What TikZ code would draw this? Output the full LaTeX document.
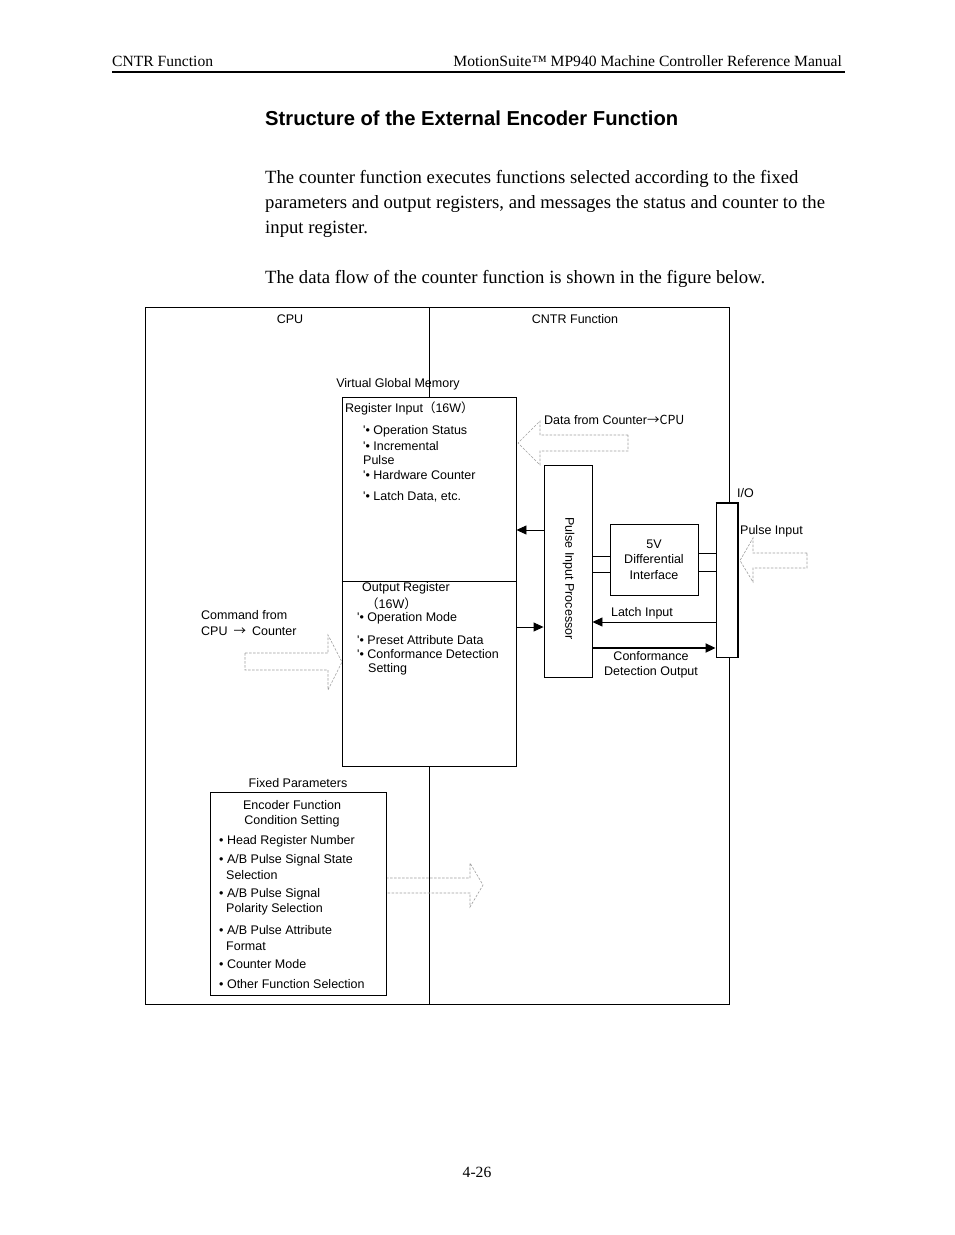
\documentclass[tikz,border=0pt]{standalone}
\usepackage{fontspec}
\setmainfont{Liberation Serif}
\newfontfamily\diag{Liberation Sans}
\newfontfamily\cjk{Noto Sans CJK JP}
\usetikzlibrary{positioning,arrows.meta}

\begin{document}
\begin{tikzpicture}[x=1pt,y=-1pt,
      lbl/.style={inner sep=0pt,yshift=-1.5pt,font=\diag\fontsize{12.5}{15.5}\selectfont},
      body/.style={anchor=base west,inner sep=0pt,font=\fontsize{18.7}{25}\selectfont},
      box/.style={draw,line width=0.9pt,fill=white,inner sep=0pt},
      arr/.style={line width=0.9pt,-{Triangle[length=10pt,width=9pt]}},
      hollow/.style={draw=gray!75,line width=0.6pt,dash pattern=on 2.5pt off 1.5pt}
      ]
      \useasboundingbox[fill=white] (0,0) rectangle (954,1235);
      % page header
      \node (hdl) [anchor=base west,inner sep=0pt,font=\fontsize{15.6}{18}\selectfont] at (112,66) {CNTR Function};
      \node (hdr) [anchor=base east,inner sep=0pt,font=\fontsize{15.6}{18}\selectfont] at (842,66) {MotionSuite™ MP940 Machine Controller Reference Manual};
      \draw[line width=1.1pt] (112,72) -- (845,72);
      \node (title) [anchor=base west,inner sep=0pt,font=\diag\bfseries\fontsize{20.2}{24}\selectfont] at (265,125) {Structure of the External Encoder Function};
      \node (p1) [body] at (265,183) {The counter function executes functions selected according to the fixed};
      \node (p2) [body] at (265,208) {parameters and output registers, and messages the status and counter to the};
      \node (p3) [body] at (265,233) {input register.};
      \node (p4) [body] at (265,283) {The data flow of the counter function is shown in the figure below.};
      % frame
      \draw[line width=0.9pt] (145,307) rectangle (729,1004);
      \draw[line width=0.9pt] (429,307) -- (429,1004);
      \node (cpu) [lbl] at (290,318) {CPU};
      \node (cntr) [lbl] at (575,318) {CNTR Function};
      % virtual global memory
      \node (vgm) [lbl] at (398,383) {Virtual Global Memory};
      \node (reg) [box,minimum width=174pt,minimum height=369pt] at (429,581.5) {};
      \draw[line width=0.9pt] (reg.west |- 0,581) -- (reg.east |- 0,581);
      \node (regin) [lbl,anchor=west] at (345,407) {Register Input{\cjk（}16W{\cjk）}};
      \node (ri1) [lbl,anchor=west] at (363,430) {'• Operation Status};
      \node (ri2) [lbl,anchor=west] at (363,445) {'• Incremental};
      \node (ri3) [lbl,anchor=west] at (363,459) {Pulse};
      \node (ri4) [lbl,anchor=west] at (363,474) {'• Hardware Counter};
      \node (ri5) [lbl,anchor=west] at (363,495) {'• Latch Data, etc.};
      \node (outreg) [lbl,anchor=west] at (362,587) {Output Register};
      \node (outw) [lbl,anchor=west] at (366,602) {{\cjk（}16W{\cjk）}};
      \node (ro1) [lbl,anchor=west] at (357,617) {'• Operation Mode};
      \node (ro2) [lbl,anchor=west] at (357,639) {'• Preset Attribute Data};
      \node (ro3) [lbl,anchor=west] at (357,653) {'• Conformance Detection};
      \node (ro4) [lbl,anchor=west] at (368,668) {Setting};
      % counter side
      \node (proc) [box,minimum width=48pt,minimum height=212pt] at (568,571) {};
      \node (proctxt) [lbl,rotate=-90,yshift=1.5pt,xshift=-1pt] at (567,578) {Pulse Input Processor};
      \node (diff) [box,lbl,yshift=1.5pt,minimum width=88pt,minimum height=71pt,align=center] at (654,559.5) {5V\\Differential\\Interface};
      \node (io) [box,minimum width=22pt,minimum height=154pt] at (727,580) {};
      \draw[line width=2pt] (io.north west) -- (io.north east) -- (io.south east);
      \node (iotxt) [lbl,anchor=west] at (737,492) {I/O};
      \node (pin) [lbl,anchor=west] at (740,530) {Pulse Input};
      \node (dfc) [lbl,anchor=west] at (544,418) {Data from Counter{\cjk →CPU}};
      \draw[arr] (proc.west |- 0,530) -- (reg.east |- 0,530);
      \draw[arr] (reg.east |- 0,627) -- (proc.west |- 0,627);
      \draw[line width=0.9pt] (proc.east |- 0,556) -- (diff.west |- 0,556);
      \draw[line width=0.9pt] (proc.east |- 0,572) -- (diff.west |- 0,572);
      \draw[line width=0.9pt] (diff.east |- 0,553) -- (io.west |- 0,553);
      \draw[line width=0.9pt] (diff.east |- 0,571) -- (io.west |- 0,571);
      \draw[arr] (io.west |- 0,622) -- (proc.east |- 0,622);
      \node (latch) [lbl] at (642,612) {Latch Input};
      \draw[arr,line width=2pt] (proc.east |- 0,648) -- (io.west |- 0,648);
      \node (conf) [lbl,align=center] at (651,663.5) {Conformance\\Detection Output};
      % hollow arrows
      \draw[hollow] (628,435) -- (540,435) -- (540,421) -- (518,443) -- (540,465) -- (540,451) -- (628,451) -- cycle;
      \draw[hollow] (807,553) -- (753,553) -- (753,538) -- (740,560.5) -- (753,582) -- (753,568) -- (807,568) -- cycle;
      \draw[hollow] (245,653) -- (328,653) -- (328,635) -- (342,662) -- (328,690) -- (328,670) -- (245,670) -- cycle;
      \draw[hollow] (386,878) -- (470,878) -- (470,863) -- (483,885) -- (470,907) -- (470,893) -- (386,893) -- cycle;
      \node (cmd) [lbl,anchor=west,align=left] at (201,621.5) {Command from\\CPU\hspace{6pt}{\cjk →}\hspace{6pt}Counter};
      % fixed parameters
      \node (fixed) [lbl] at (298,782) {Fixed Parameters};
      \node (enc) [box,minimum width=176pt,minimum height=203pt] at (298,893.5) {};
      \node (enchd) [lbl,align=center] at (292,812.5) {Encoder Function\\Condition Setting};
      \node (e1) [lbl,anchor=west] at (219,840) {• Head Register Number};
      \node (e2) [lbl,anchor=west,align=left] at (219,865.5) {• A/B Pulse Signal State\\\hspace*{7pt}Selection};
      \node (e3) [lbl,anchor=west,align=left] at (219,900.5) {• A/B Pulse Signal\\\hspace*{7pt}Polarity Selection};
      \node (e4) [lbl,anchor=west,align=left] at (219,936.5) {• A/B Pulse Attribute\\\hspace*{7pt}Format};
      \node (e5) [lbl,anchor=west] at (219,963) {• Counter Mode};
      \node (e6) [lbl,anchor=west] at (219,983) {• Other Function Selection};
      % page number
      \node (pgno) [anchor=base,inner sep=0pt,font=\fontsize{15.6}{18}\selectfont] at (477,1177) {4-26};
\end{tikzpicture}
\end{document}
